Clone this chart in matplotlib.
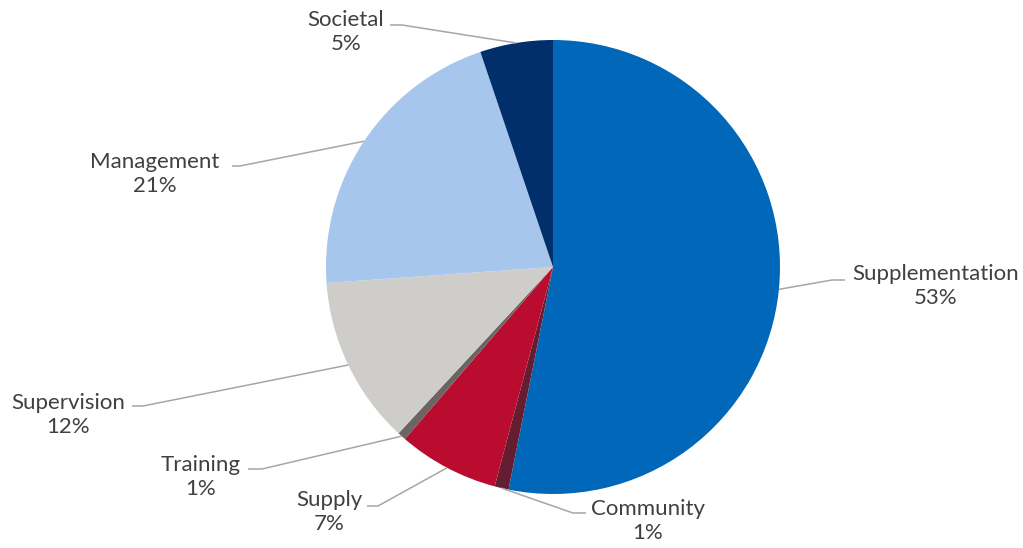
import numpy as np
import matplotlib
matplotlib.use("Agg")
import matplotlib.pyplot as plt

# slice data, clockwise from 12 o'clock
categories = ["Supplementation", "Community", "Supply", "Training",
              "Supervision", "Management", "Societal"]
values = [53.3, 1.0, 7.2, 0.6, 12.0, 21.0, 5.2]
colors = ["#0067B9", "#651D32", "#BA0C2F", "#6C6463",
          "#CFCDC9", "#A7C6ED", "#002F6C"]

W, H = 1023, 548
CX, CY, R = 553, 267, 227

# label layout in pixels from top-left: text centre, elbow, tail of leader
text_pos = [(936, 286), (648, 521), (329, 512), (201, 477),
            (68, 415), (155, 174), (346, 32)]
elbows = [(832, 280), (573, 513), (378, 506), (262, 469),
          (143, 406), (240, 166), (402, 25)]
tails = [(845, 280), (586, 513), (367, 506), (248, 469),
         (132, 406), (232, 166), (390, 25)]

plt.rcParams['font.family'] = ['Lato', 'DejaVu Sans']

fig = plt.figure(figsize=(W / 100, H / 100), dpi=100)
ax = fig.add_axes([0, 0, 1, 1])

wedges, _ = ax.pie(values, colors=colors, startangle=90, counterclock=False,
                   center=(CX, H - CY), radius=R,
                   wedgeprops=dict(linewidth=0))
ax.set_xlim(0, W)
ax.set_ylim(0, H)
ax.set_aspect("equal")
ax.axis("off")

total = sum(values)
for w, name, v, tp, el, tl in zip(wedges, categories, values, text_pos, elbows, tails):
    mid = np.deg2rad((w.theta1 + w.theta2) / 2)
    sx = CX + R * np.cos(mid)
    sy = (H - CY) + R * np.sin(mid)
    ax.plot([sx, el[0], tl[0]], [sy, H - el[1], H - tl[1]],
            color="#A6A6A6", lw=1.1, solid_capstyle="butt")
    pct = 100 * v / total
    ax.text(tp[0], H - tp[1], f"{name}\n{pct:.0f}%", ha="center", va="center",
            fontsize=16, color="#404040", linespacing=1.22)

fig.savefig("out.png", dpi=100)
